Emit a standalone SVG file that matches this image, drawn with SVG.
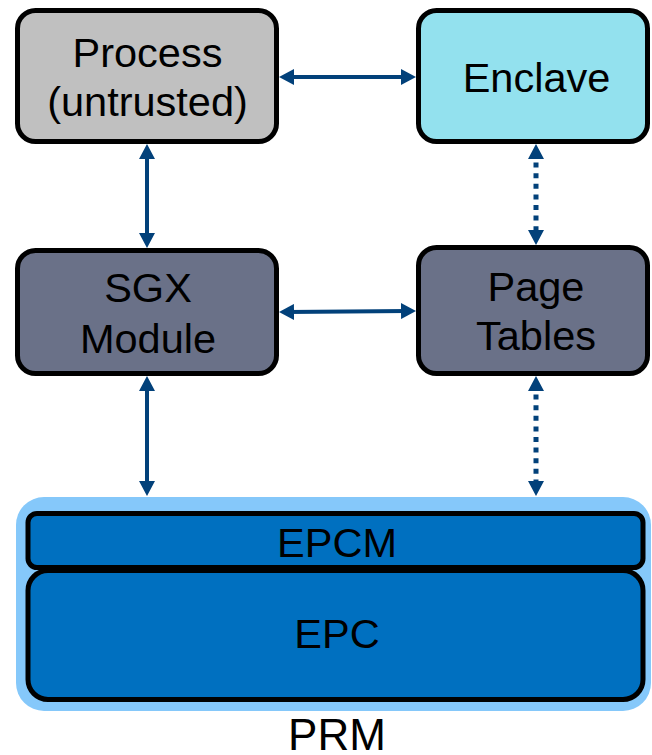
<svg xmlns="http://www.w3.org/2000/svg" width="652" height="755" viewBox="0 0 652 755">
  <style>
    .box { stroke: #000; stroke-width: 5; }
    .label { font-family: "Liberation Sans", Arial, sans-serif; font-size: 41.5px; fill: #000; text-anchor: middle; }
    .link { stroke: #02417A; stroke-width: 4; fill: none; marker-start: url(#head); marker-end: url(#head); }
    .dotted { stroke-width: 5; stroke-dasharray: 5 5.6; }
  </style>
  <defs>
    <marker id="head" viewBox="0 0 15 16" markerWidth="15" markerHeight="16" refX="7" refY="8" markerUnits="userSpaceOnUse" orient="auto-start-reverse">
      <path d="M0,0 L15,8 L0,16 Z" fill="#02417A"/>
    </marker>
  </defs>

  <rect width="652" height="755" fill="#fff"/>

  <g id="process">
    <rect class="box" x="17.5" y="10.5" width="259" height="131" rx="18" fill="#C0C0C0"/>
    <text class="label" x="147.5" y="67">Process</text>
    <text class="label" x="147.5" y="116">(untrusted)</text>
  </g>

  <g id="enclave">
    <rect class="box" x="418.5" y="10.5" width="229" height="131" rx="18" fill="#93E1EE"/>
    <text class="label" x="536.5" y="92">Enclave</text>
  </g>

  <g id="sgx-module">
    <rect class="box" x="17.5" y="250.5" width="259" height="123" rx="18" fill="#6A7188"/>
    <text class="label" x="148" y="302">SGX</text>
    <text class="label" x="148" y="353">Module</text>
  </g>

  <g id="page-tables">
    <rect class="box" x="418.5" y="247.5" width="229" height="126" rx="18" fill="#6A7188"/>
    <text class="label" x="536" y="301">Page</text>
    <text class="label" x="536" y="350">Tables</text>
  </g>

  <g id="prm">
    <rect x="16" y="497" width="635" height="214" rx="28" fill="#85C8FA"/>
    <text class="label" x="337" y="750" style="font-size:44px">PRM</text>
  </g>

  <g id="epcm">
    <rect class="box" x="28" y="513.5" width="615" height="54" rx="9" fill="#0070C0"/>
    <text class="label" x="337" y="557">EPCM</text>
  </g>

  <g id="epc">
    <rect class="box" x="28" y="570.5" width="615" height="129" rx="20" fill="#0070C0"/>
    <text class="label" x="337" y="648">EPC</text>
  </g>

  <g id="connectors">
    <line class="link" x1="287" y1="77" x2="408" y2="77"/>
    <line class="link" x1="147" y1="152" x2="147" y2="240"/>
    <line class="link dotted" x1="536" y1="152" x2="536" y2="237"/>
    <line class="link" x1="287" y1="312" x2="408" y2="311"/>
    <line class="link" x1="147" y1="384" x2="147" y2="488"/>
    <line class="link dotted" x1="536" y1="384" x2="536" y2="488"/>
  </g>
</svg>
